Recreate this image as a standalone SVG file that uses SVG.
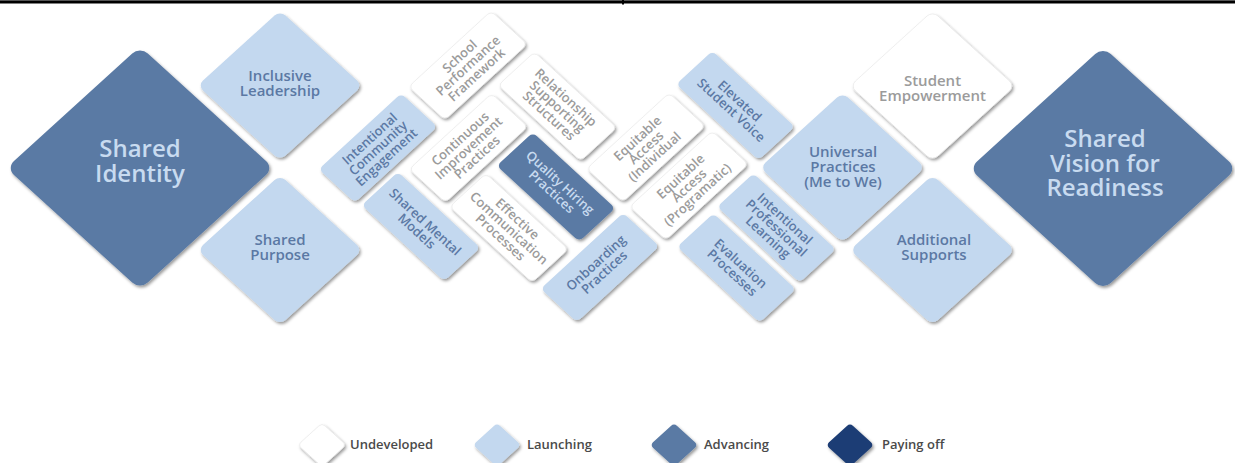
<svg xmlns="http://www.w3.org/2000/svg" width="1235" height="463" viewBox="0 0 1235 463">
<defs>
<filter id="sh" x="-20%" y="-20%" width="140%" height="140%">
<feDropShadow dx="1.5" dy="2" stdDeviation="1.6" flood-color="#000" flood-opacity="0.4"/>
</filter>
<style>
.und{fill:#ffffff;stroke:#e4e4e4;stroke-width:0.6;vector-effect:non-scaling-stroke}
.lau{fill:#c3d8ef}
.adv{fill:#5a7aa4}
.pay{fill:#1f3e74}
.t{font-family:"Open Sans","Liberation Sans",sans-serif;font-weight:600;text-anchor:middle}
.big{font-size:24px}
.med{font-size:15px}
.sm{font-size:13px}
.tu{fill:#9b9b9b}
.tl{fill:#5b78a4}
.ta{fill:#c8dbf0}
.lg{font-family:"Open Sans","Liberation Sans",sans-serif;font-weight:600;font-size:13px;fill:#4a4a4a}
.s{filter:url(#sh)}
</style>
</defs>
<rect x="0" y="0" width="1235" height="463" fill="#ffffff"/>
<rect x="0" y="0" width="1235" height="1" fill="#555"/>
<rect x="0" y="1" width="1235" height="2.5" fill="#000"/>
<rect x="622" y="0" width="2" height="4.5" fill="#000"/>

<g id="connectors"></g>

<!-- Big diamonds -->
<g id="shared-identity">
<g class="s"><rect class="adv" x="-86" y="-86" width="172" height="172" rx="10" transform="translate(140,168) scale(1.1,1) rotate(45)"/></g>
<text class="t big ta" x="140" y="157">Shared</text>
<text class="t big ta" x="140" y="182">Identity</text>
</g>
<g id="shared-vision">
<g class="s"><rect class="adv" x="-86" y="-86" width="172" height="172" rx="10" transform="translate(1103,168.5) scale(1.1,1) rotate(45)"/></g>
<text class="t big ta" x="1105" y="147">Shared</text>
<text class="t big ta" x="1105" y="171.5">Vision for</text>
<text class="t big ta" x="1105" y="195.5">Readiness</text>
</g>

<!-- Medium diamonds -->
<g id="inclusive-leadership">
<g class="s"><rect class="lau" x="-53" y="-53" width="106" height="106" rx="7" transform="translate(280,85.5) scale(1.1,1) rotate(45)"/></g>
<text class="t med tl" x="280" y="81">Inclusive</text>
<text class="t med tl" x="280" y="96">Leadership</text>
</g>
<g id="shared-purpose">
<g class="s"><rect class="lau" x="-53" y="-53" width="106" height="106" rx="7" transform="translate(280,250) scale(1.1,1) rotate(45)"/></g>
<text class="t med tl" x="280" y="244.5">Shared</text>
<text class="t med tl" x="280" y="259.5">Purpose</text>
</g>
<g id="universal-practices">
<g class="s"><rect class="lau" x="-53" y="-53" width="106" height="106" rx="7" transform="translate(842.5,167.5) scale(1.1,1) rotate(45)"/></g>
<text class="t med tl" x="843" y="157">Universal</text>
<text class="t med tl" x="843" y="172">Practices</text>
<text class="t med tl" x="843" y="187">(Me to We)</text>
</g>
<g id="student-empowerment">
<g class="s"><rect class="und" x="-53" y="-53" width="106" height="106" rx="7" transform="translate(932.5,86) scale(1.1,1) rotate(45)"/></g>
<text class="t med tu" x="932.5" y="85.5">Student</text>
<text class="t med tu" x="932.5" y="100.5">Empowerment</text>
</g>
<g id="additional-supports">
<g class="s"><rect class="lau" x="-53" y="-53" width="106" height="106" rx="7" transform="translate(932.5,250) scale(1.1,1) rotate(45)"/></g>
<text class="t med tl" x="934" y="244.5">Additional</text>
<text class="t med tl" x="934" y="259.5">Supports</text>
</g>

<!-- Tiles, long axis up-right -->
<g id="intentional-community-engagement">
<g class="s"><rect class="lau" x="-53.5" y="-23.5" width="107" height="47" rx="5" transform="translate(378,148) scale(1.09,1) rotate(-45)"/></g>
<g transform="translate(378,148) rotate(-42.5)">
<text class="t sm tl" x="0" y="-7.9">Intentional</text>
<text class="t sm tl" x="0" y="4.6">Community</text>
<text class="t sm tl" x="0" y="17.1">Engagement</text>
</g>
</g>
<g id="school-performance-framework">
<g class="s"><rect class="und" x="-53.5" y="-23.5" width="107" height="47" rx="5" transform="translate(468,65.5) scale(1.09,1) rotate(-45)"/></g>
<g transform="translate(468,65.5) rotate(-42.5)">
<text class="t sm tu" x="0" y="-7.9">School</text>
<text class="t sm tu" x="0" y="4.6">Performance</text>
<text class="t sm tu" x="0" y="17.1">Framework</text>
</g>
</g>
<g id="continuous-improvement-practices">
<g class="s"><rect class="und" x="-53.5" y="-23.5" width="107" height="47" rx="5" transform="translate(468.5,148) scale(1.09,1) rotate(-45)"/></g>
<g transform="translate(468.5,148) rotate(-42.5)">
<text class="t sm tu" x="0" y="-7.9">Continuous</text>
<text class="t sm tu" x="0" y="4.6">Improvement</text>
<text class="t sm tu" x="0" y="17.1">Practices</text>
</g>
</g>
<g id="onboarding-practices">
<g class="s"><rect class="lau" x="-53.5" y="-23.5" width="107" height="47" rx="5" transform="translate(600,267.5) scale(1.09,1) rotate(-45)"/></g>
<g transform="translate(600,267.5) rotate(-42.5)">
<text class="t sm tl" x="0" y="-1.65">Onboarding</text>
<text class="t sm tl" x="0" y="10.85">Practices</text>
</g>
</g>
<g id="equitable-access-individual">
<g class="s"><rect class="und" x="-53.5" y="-23.5" width="107" height="47" rx="5" transform="translate(646,147.5) scale(1.09,1) rotate(-45)"/></g>
<g transform="translate(646,147.5) rotate(-42.5)">
<text class="t sm tu" x="0" y="-7.9">Equitable</text>
<text class="t sm tu" x="0" y="4.6">Access</text>
<text class="t sm tu" x="0" y="17.1">(Individual</text>
</g>
</g>
<g id="equitable-access-programatic">
<g class="s"><rect class="und" x="-53.5" y="-23.5" width="107" height="47" rx="5" transform="translate(689,185.5) scale(1.09,1) rotate(-45)"/></g>
<g transform="translate(689,185.5) rotate(-42.5)">
<text class="t sm tu" x="0" y="-7.9">Equitable</text>
<text class="t sm tu" x="0" y="4.6">Access</text>
<text class="t sm tu" x="0" y="17.1">(Programatic)</text>
</g>
</g>

<!-- Tiles, long axis down-right -->
<g id="relationship-supporting-structures">
<g class="s"><rect class="und" x="-53.5" y="-23.5" width="107" height="47" rx="5" transform="translate(557.5,106.5) scale(1.09,1) rotate(45)"/></g>
<g transform="translate(557.5,106.5) rotate(42.5)">
<text class="t sm tu" x="0" y="-7.9">Relationship</text>
<text class="t sm tu" x="0" y="4.6">Supporting</text>
<text class="t sm tu" x="0" y="17.1">Structures</text>
</g>
</g>
<g id="quality-hiring-practices">
<g class="s"><rect class="adv" x="-53.5" y="-23.5" width="107" height="47" rx="5" transform="translate(556,187) scale(1.09,1) rotate(45)"/></g>
<g transform="translate(556,187) rotate(42.5)">
<text class="t sm ta" x="0" y="-1.65">Quality Hiring</text>
<text class="t sm ta" x="0" y="10.85">Practices</text>
</g>
</g>
<g id="shared-mental-models">
<g class="s"><rect class="lau" x="-53.5" y="-23.5" width="107" height="47" rx="5" transform="translate(421,226.5) scale(1.09,1) rotate(45)"/></g>
<g transform="translate(421,226.5) rotate(42.5)">
<text class="t sm tl" x="0" y="-1.65">Shared Mental</text>
<text class="t sm tl" x="0" y="10.85">Models</text>
</g>
</g>
<g id="effective-communication-processes">
<g class="s"><rect class="und" x="-53.5" y="-23.5" width="107" height="47" rx="5" transform="translate(509,228) scale(1.09,1) rotate(45)"/></g>
<g transform="translate(509,228) rotate(42.5)">
<text class="t sm tu" x="0" y="-7.9">Effective</text>
<text class="t sm tu" x="0" y="4.6">Communication</text>
<text class="t sm tu" x="0" y="17.1">Processes</text>
</g>
</g>
<g id="elevated-student-voice">
<g class="s"><rect class="lau" x="-53.5" y="-23.5" width="107" height="47" rx="5" transform="translate(735.5,105.5) scale(1.09,1) rotate(45)"/></g>
<g transform="translate(735.5,105.5) rotate(42.5)">
<text class="t sm tl" x="0" y="-1.65">Elevated</text>
<text class="t sm tl" x="0" y="10.85">Student Voice</text>
</g>
</g>
<g id="intentional-professional-learning">
<g class="s"><rect class="lau" x="-53.5" y="-23.5" width="107" height="47" rx="5" transform="translate(776.5,228) scale(1.09,1) rotate(45)"/></g>
<g transform="translate(776.5,228) rotate(42.5)">
<text class="t sm tl" x="0" y="-7.9">Intentional</text>
<text class="t sm tl" x="0" y="4.6">Professional</text>
<text class="t sm tl" x="0" y="17.1">Learning</text>
</g>
</g>
<g id="evaluation-processes">
<g class="s"><rect class="lau" x="-53.5" y="-23.5" width="107" height="47" rx="5" transform="translate(736.5,268) scale(1.09,1) rotate(45)"/></g>
<g transform="translate(736.5,268) rotate(42.5)">
<text class="t sm tl" x="0" y="-1.65">Evaluation</text>
<text class="t sm tl" x="0" y="10.85">Processes</text>
</g>
</g>

<!-- Legend -->
<g id="legend-undeveloped">
<g class="s"><rect class="und" x="-15.5" y="-15.5" width="31" height="31" rx="4" transform="translate(322,445) scale(1.1,1) rotate(45)"/></g>
<text class="lg" x="350" y="449">Undeveloped</text>
</g>
<g id="legend-launching">
<g class="s"><rect class="lau" x="-15.5" y="-15.5" width="31" height="31" rx="4" transform="translate(497,445) scale(1.1,1) rotate(45)"/></g>
<text class="lg" x="527" y="449">Launching</text>
</g>
<g id="legend-advancing">
<g class="s"><rect class="adv" x="-15.5" y="-15.5" width="31" height="31" rx="4" transform="translate(674,445) scale(1.1,1) rotate(45)"/></g>
<text class="lg" x="704" y="449">Advancing</text>
</g>
<g id="legend-paying-off">
<g class="s"><rect class="pay" x="-15.5" y="-15.5" width="31" height="31" rx="4" transform="translate(850,445) scale(1.1,1) rotate(45)"/></g>
<text class="lg" x="882" y="449">Paying off</text>
</g>
</svg>
